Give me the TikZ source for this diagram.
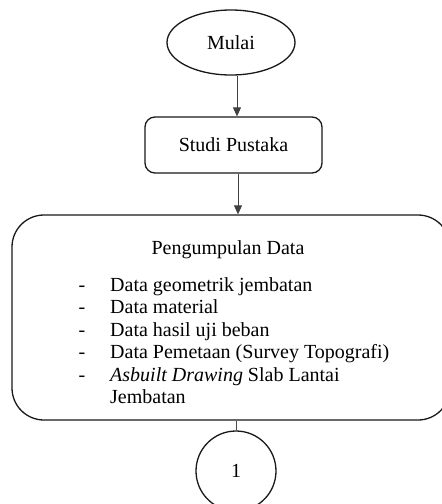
\documentclass[tikz,border=0pt]{standalone}
\usepackage{fontspec}
\setmainfont{Liberation Serif}
\usetikzlibrary{shapes.geometric,arrows.meta}
\begin{document}
\begin{tikzpicture}[x=1pt,y=-1pt,
  every node/.style={font=\fontsize{20}{24}\selectfont},
  shapeline/.style={draw=black!90, line width=1.3pt, inner sep=0pt},
  arr/.style={draw=black!75, line width=0.8pt, -{Triangle[length=9pt,width=8pt]}},
  link/.style={draw=black!70, line width=0.7pt},
  itemtext/.style={inner sep=0pt, anchor=base west},
  dashmark/.style={inner sep=0pt, anchor=base},
]
\useasboundingbox (0,0) rectangle (442,504);
\clip (0,0) rectangle (442,504);
\node[shapeline, ellipse, minimum width=128pt, minimum height=65pt] (mulai) at (231,42.5) {Mulai};
\node[shapeline, rectangle, rounded corners=10pt, minimum width=177pt, minimum height=56pt] (studi) at (233.5,145) {Studi Pustaka};
\node[shapeline, rectangle, rounded corners=32pt, minimum width=438pt, minimum height=205pt] (big) at (231,317.5) {};
\node[shapeline, circle, minimum size=80pt] (circ) at (236,471) {1};
\coordinate (ax1) at (237,0);
\coordinate (ax2) at (238,0);
\draw[arr] (mulai.south -| ax1) -- (studi.north -| ax1);
\draw[arr] (studi.south -| ax2) -- (big.north -| ax2);
\draw[link] (big.south -| circ.north) -- (circ.north);
\node[dashmark] (title) at (228,254) {Pengumpulan Data};
\node[dashmark] (d1) at (82,291) {-};
\node[dashmark] (d2) at (82,313.5) {-};
\node[dashmark] (d3) at (82,336) {-};
\node[dashmark] (d4) at (82,358.5) {-};
\node[dashmark] (d5) at (82,381) {-};
\node[itemtext] (i1) at (110,291) {Data geometrik jembatan};
\node[itemtext] (i2) at (110,313.5) {Data material};
\node[itemtext] (i3) at (110,336) {Data hasil uji beban};
\node[itemtext] (i4) at (110,358.5) {Data Pemetaan (Survey Topografi)};
\node[itemtext] (i5) at (110,381) {\textit{Asbuilt Drawing} Slab Lantai};
\node[itemtext] (i6) at (110,403.5) {Jembatan};
\end{tikzpicture}
\end{document}
